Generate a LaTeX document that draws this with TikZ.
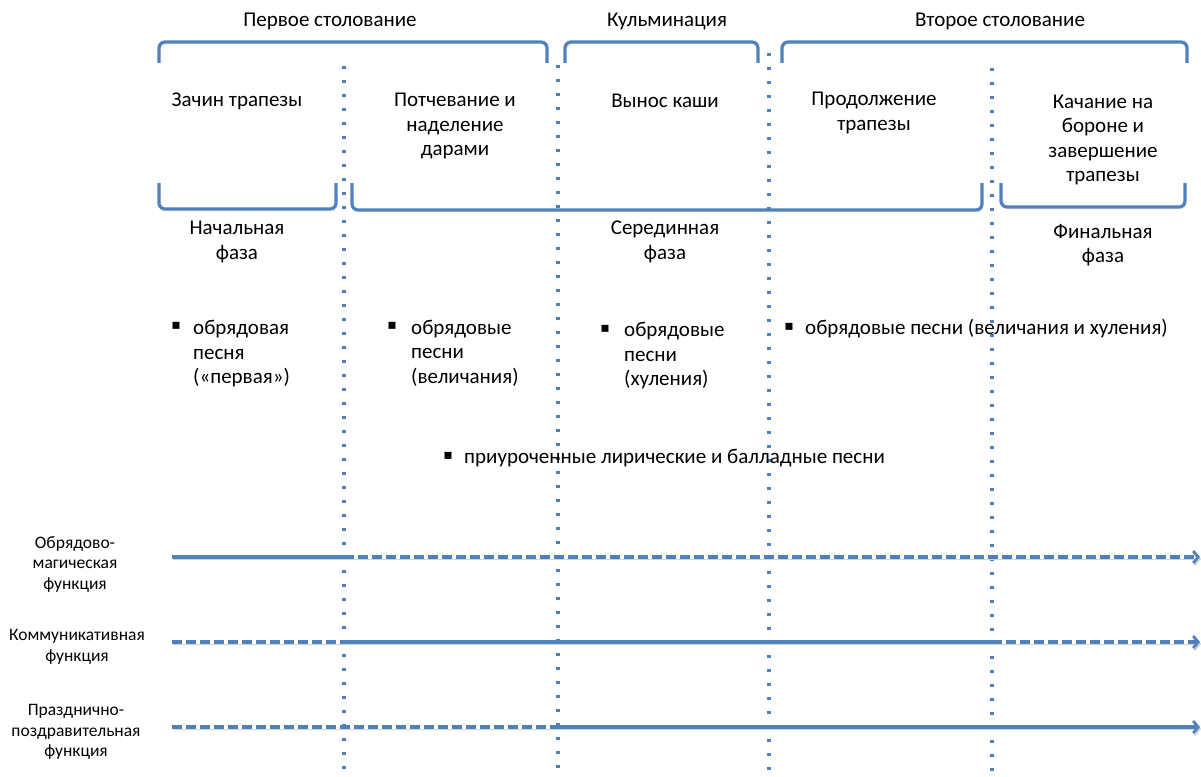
\documentclass[tikz,border=0pt]{standalone}
\usepackage{fontspec}
\setmainfont{Carlito}
\newfontfamily\symfont{DejaVu Sans}
\usetikzlibrary{arrows.meta}
\definecolor{ob}{RGB}{79,129,189}
\begin{document}
\begin{tikzpicture}[x=1pt,y=-1pt,
  shad/.style={preaction={draw=black!18, transform canvas={shift={(1pt,-2pt)}}}},
  brk/.style={draw=ob, line width=3.2pt, rounded corners=6pt, shad},
  vdot/.style={draw=ob, line width=3.2pt, dash pattern=on 3.2pt off 10.8pt},
  sol/.style={draw=ob, line width=3.2pt, shad},
  dsh/.style={draw=ob, line width=3.2pt, dash pattern=on 10pt off 4pt, shad},
  arr/.style={-{Straight Barb[length=5pt,width=12pt,line width=2.8pt]}},
  lbl/.style={font=\fontsize{21}{24.5}\selectfont, align=center, inner sep=0pt},
  lbll/.style={font=\fontsize{21}{24.5}\selectfont, align=left, inner sep=0pt, anchor=west},
  sml/.style={font=\fontsize{17.5}{20.5}\selectfont, align=center, inner sep=0pt},
  bul/.style={font=\symfont\fontsize{14}{16}\selectfont, inner sep=0pt}
]
\useasboundingbox (0,0) rectangle (1201,776);

% top headers
\node[lbl] (h1) at (330,21) {Первое столование};
\node[lbl] (h2) at (667,21) {Кульминация};
\node[lbl] (h3) at (1000,21) {Второе столование};

% top brackets
\draw[brk] (159,63) -- (159,42) -- (547,42) -- (547,63);
\draw[brk] (565,63) -- (565,42) -- (758,42) -- (758,63);
\draw[brk] (782,63) -- (782,42) -- (1187,42) -- (1187,63);

% stages
\node[lbl] (s1) at (237,101) {Зачин трапезы};
\node[lbl] (s2) at (455,126) {Потчевание и\\наделение\\дарами};
\node[lbl] (s3) at (665,101) {Вынос каши};
\node[lbl] (s4) at (874,113) {Продолжение\\трапезы};
\node[lbl] (s5) at (1103,140) {Качание на\\бороне и\\завершение\\трапезы};

% bottom brackets
\draw[brk] (159,183) -- (159,209) -- (336,209) -- (336,183);
\draw[brk] (352,183) -- (352,210) -- (982,210) -- (982,183);
\draw[brk] (1001,183) -- (1001,207) -- (1185,207) -- (1185,183);

% phases
\node[lbl] (p1) at (237,242) {Начальная\\фаза};
\node[lbl] (p2) at (665,242) {Серединная\\фаза};
\node[lbl] (p3) at (1103,245) {Финальная\\фаза};

% vertical dotted separators
\coordinate (v1t) at (344,66);  \coordinate (v1b) at (344,776);
\coordinate (v2t) at (558,65);  \coordinate (v2b) at (558,776);
\coordinate (v3t) at (769,53);  \coordinate (v3b) at (769,776);
\coordinate (v4t) at (992,68);  \coordinate (v4b) at (992,776);
\draw[vdot] (v1t) -- (v1b);
\draw[vdot] (v2t) -- (v2b);
\draw[vdot] (v3t) -- (v3b);
\draw[vdot] (v4t) -- (v4b);

% bullet items
\node[bul] (b1) at (176,326) {▪};
\node[lbll] (t1) at (193,354) {обрядовая\\песня\\(«первая»)};
\node[bul] (b2) at (392,326) {▪};
\node[lbll] (t2) at (411,353) {обрядовые\\песни\\(величания)};
\node[bul] (b3) at (605,329) {▪};
\node[lbll] (t3) at (624,356) {обрядовые\\песни\\(хуления)};
\node[bul] (b4) at (789,327) {▪};
\node[lbll] (t4) at (805,329) {обрядовые песни (величания и хуления)};
\node[bul] (b5) at (448,456) {▪};
\node[lbll] (t5) at (464,458) {приуроченные лирические и балладные песни};

% function labels
\node[sml] (f1) at (75,564) {Обрядово-\\магическая\\функция};
\node[sml] (f2) at (77,647) {Коммуникативная\\функция};
\node[sml] (f3) at (76,732) {Празднично-\\поздравительная\\функция};

% function lines
\coordinate (a0) at (172,557); \coordinate (a1) at (344,557); \coordinate (a2) at (1200,557);
\coordinate (c0) at (172,642); \coordinate (c1) at (350,642); \coordinate (c2) at (992,642); \coordinate (c3) at (1200,642);
\coordinate (d0) at (172,727); \coordinate (d1) at (558,727); \coordinate (d2) at (1200,727);
\draw[sol] (a0) -- (a1);
\draw[dsh,arr] (a1) -- (a2);
\draw[dsh] (c0) -- (c1);
\draw[sol] (c1) -- (c2);
\draw[dsh,arr] (c2) -- (c3);
\draw[dsh] (d0) -- (d1);
\draw[sol,arr] (d1) -- (d2);
\end{tikzpicture}
\end{document}
